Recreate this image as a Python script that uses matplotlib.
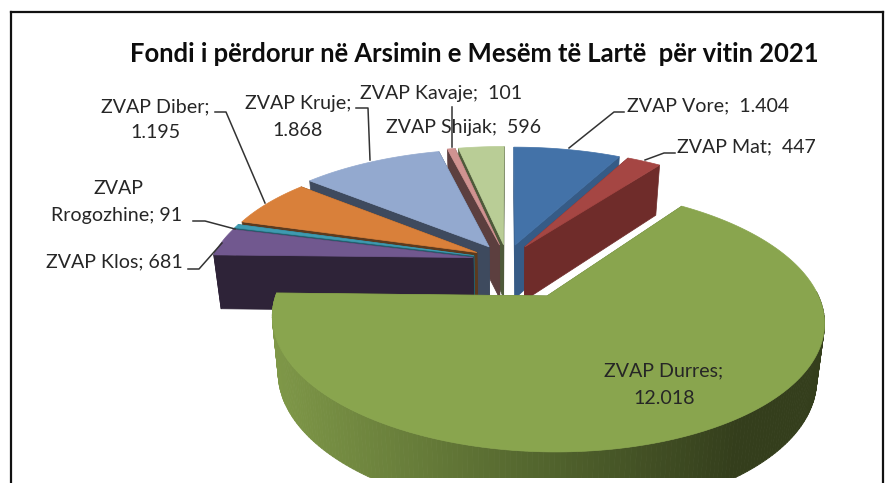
import numpy as np
import matplotlib
matplotlib.use("Agg")
import matplotlib.pyplot as plt
from matplotlib.patches import Polygon, Rectangle
from matplotlib.collections import PolyCollection
from matplotlib.colors import to_rgb

names = ["ZVAP Vore", "ZVAP Mat", "ZVAP Durres", "ZVAP Klos", "ZVAP Rrogozhine",
         "ZVAP Diber", "ZVAP Kruje", "ZVAP Kavaje", "ZVAP Shijak"]
values = [1404, 447, 12018, 681, 91, 1195, 1868, 101, 596]
title = "Fondi i përdorur në Arsimin e Mesëm të Lartë  për vitin 2021"

top_colors = ["#4372A8", "#A54643", "#89A54E", "#71588F", "#3E9AB0",
              "#D9803A", "#93A9CF", "#D09391", "#B9CD96"]
face_colors = ["#365B86", "#6F2C2A", "#5A6D33", "#2E2338", "#23606F",
               "#5C3A1E", "#3E4A5E", "#5C3F3F", "#4E5A3A"]
explode = [0.134, 0.134, 0.334, 0.134, 0.134, 0.134, 0.134, 0.134, 0.134]
radius = [1.05, 1.05, 1.0, 1.015, 1.015, 1.015, 1.04, 1.055, 1.055]
draw_order = [0, 8, 7, 6, 1, 5, 4, 3, 2]

# projection of the tilted disk
X0, R, P, Q, C, SHRINK = 507.0, 1493.0, -406.0, 3861.0, 5.80, 0.975
WALL_A, WALL_B = 26.5, 160.0


def project(u, v):
    t = C + v
    return X0 + R * u / t, P + Q / t


def lower(u, v):
    t = C + v
    return X0 + SHRINK * R * u / t, P + Q / t + WALL_A + WALL_B / t


fig = plt.figure(figsize=(8.88, 4.83), dpi=100)
ax = fig.add_axes([0, 0, 1, 1])
ax.set_xlim(0, 888)
ax.set_ylim(483, 0)
ax.axis("off")

vals = np.array(values, dtype=float)
edges = np.concatenate([[0], np.cumsum(vals)]) / vals.sum() * 2 * np.pi
dark_l, dark_m, dark_r = map(np.array, map(to_rgb, ["#7F9848", "#55682F", "#343E1C"]))

z = 2
for i in draw_order:
    a0, a1 = edges[i], edges[i + 1]
    mid = (a0 + a1) / 2
    cu, cv = explode[i] * np.sin(mid), explode[i] * np.cos(mid)
    th = np.linspace(a0, a1, max(int((a1 - a0) * 60), 8))
    au, av = cu + radius[i] * np.sin(th), cv + radius[i] * np.cos(th)
    tx, ty = project(au, av)
    bx, by = lower(au, av)
    tipx, tipy = project(cu, cv)
    tipbx, tipby = lower(cu, cv)
    # radial cut faces
    for k in (0, -1):
        ax.add_patch(Polygon([(tipx, tipy), (tx[k], ty[k]), (bx[k], by[k]), (tipbx, tipby)],
                             closed=True, fc=face_colors[i], ec=face_colors[i], lw=0.5, zorder=z))
    z += 1
    # rim
    quads, cols = [], []
    for j in range(len(th) - 1):
        if np.cos(th[j]) > 0.05:
            continue
        quads.append([(tx[j], ty[j]), (tx[j + 1], ty[j + 1]), (bx[j + 1], by[j + 1]), (bx[j], by[j])])
        if i == 2:
            f = (tx[j] - 270) / 470
            f = min(max(f, 0), 1)
            c = dark_l + (dark_m - dark_l) * f / 0.55 if f < 0.55 else dark_m + (dark_r - dark_m) * (f - 0.55) / 0.45
        else:
            c = np.array(to_rgb(face_colors[i]))
        cols.append(tuple(c))
    if quads:
        ax.add_collection(PolyCollection(quads, facecolors=cols, edgecolors=cols, linewidths=0.6, zorder=z))
    z += 1
    # top face
    ax.add_patch(Polygon(np.vstack([[tipx, tipy], np.column_stack([tx, ty])]), closed=True,
                         fc=top_colors[i], ec=top_colors[i], lw=0.5, zorder=z))
    z += 1

# reference crop at the bottom
ax.add_patch(Rectangle((0, 478), 888, 6, fc="white", ec="none", zorder=z))
z += 1
# outer frame
for xs, ys in [([10.5, 10.5], [483, 12]), ([10.5, 883], [12, 12]), ([883, 883], [12, 483])]:
    ax.plot(xs, ys, color="#111111", lw=1.6, zorder=z, solid_capstyle="projecting")

# leader lines
leaders = [
    [(215, 112), (226, 112), (265, 203)],
    [(356, 108), (368, 108), (370, 160)],
    [(452, 107), (452, 147)],
    [(624, 112), (614, 112), (569, 148)],
    [(675, 153), (664, 153), (645, 160)],
    [(193, 221), (205, 221), (235, 229)],
    [(188, 269), (199, 269), (222, 243)],
]
for pts in leaders:
    xs, ys = zip(*pts)
    ax.plot(xs, ys, color="#333333", lw=1.1, zorder=z)

FONT = "Lato"
LBL = 14.1
TXT = "#262626"
labels = [
    (f"{names[5]};", 155, 107), ("1.195", 155, 133),
    (f"{names[6]};", 298, 103), ("1.868", 298, 130),
    (f"{names[7]};  {values[7]}", 441, 94),
    (f"{names[8]};  {values[8]}", 464, 128),
    (f"{names[0]};  1.404", 708, 106),
    (f"{names[1]};  {values[1]}", 746, 147),
    ("ZVAP", 118, 188), (f"Rrogozhine; {values[4]}", 117, 216),
    (f"{names[3]}; {values[3]}", 114, 262),
    (f"{names[2]};", 664, 371), ("12.018", 664, 398),
]
for s, x, y in labels:
    ax.text(x, y, s, ha="center", va="center", fontsize=LBL, family=FONT, color=TXT, zorder=z + 1)
ax.text(474, 54, title, ha="center", va="center", fontsize=18.45, fontweight="bold",
        family=FONT, color="#0d0d0d", zorder=z + 1)

fig.savefig("out.png", dpi=100)
